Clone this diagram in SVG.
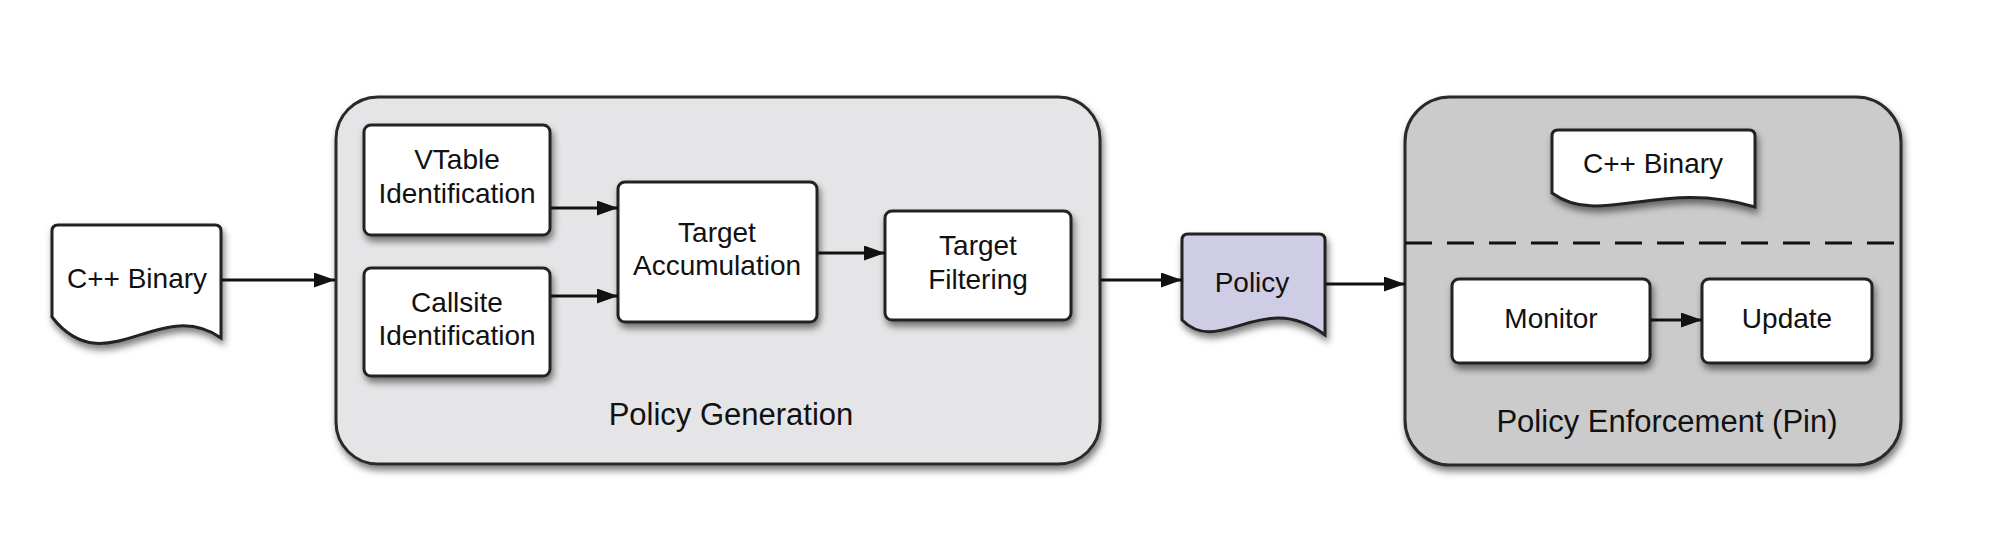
<svg xmlns="http://www.w3.org/2000/svg" width="2012" height="540" viewBox="0 0 2012 540">
<defs>
<filter id="sh" x="-20%" y="-20%" width="140%" height="150%">
<feDropShadow dx="2" dy="5" stdDeviation="3.5" flood-color="#000" flood-opacity="0.5"/>
</filter>
<marker id="ah" markerUnits="userSpaceOnUse" markerWidth="24" markerHeight="16" refX="21" refY="7.5" orient="auto">
<path d="M0,0 L21,7.5 L0,15 Z" fill="#111"/>
</marker>
</defs>
<style>
.grp{stroke:#2a2a2a;stroke-width:3;filter:url(#sh)}
.box{fill:#fff;stroke:#222;stroke-width:3;filter:url(#sh)}
.doc{fill:#fff;stroke:#222;stroke-width:3;filter:url(#sh)}
.lbl{font-family:"Liberation Sans",Arial,sans-serif;font-size:28px;fill:#111;text-anchor:middle}
.big{font-family:"Liberation Sans",Arial,sans-serif;font-size:31px;fill:#111;text-anchor:middle}
.edge{stroke:#111;stroke-width:3;fill:none;marker-end:url(#ah)}
</style>
<rect width="2012" height="540" fill="#fff"/>

<g id="policy-generation">
<rect class="grp" x="336" y="97" width="764" height="367" rx="42" fill="#e5e5e7"/>
<text class="big" x="731" y="425">Policy Generation</text>
</g>

<g id="policy-enforcement">
<rect class="grp" x="1405" y="97" width="496" height="368" rx="45" fill="#cbcbcb"/>
<line x1="1405" y1="243" x2="1901" y2="243" stroke="#111" stroke-width="3" stroke-dasharray="27 15"/>
<text class="big" x="1667" y="432">Policy Enforcement (Pin)</text>
</g>

<g id="cpp-binary-input">
<path class="doc" d="M52,231 Q52,225 58,225 L215,225 Q221,225 221,231 L221,338 C160,295 105,385 52,317 Z"/>
<text class="lbl" x="137" y="288">C++ Binary</text>
</g>

<g id="vtable-identification">
<rect class="box" x="364" y="125" width="186" height="110" rx="7"/>
<text class="lbl" x="457" y="169">VTable</text>
<text class="lbl" x="457" y="203">Identification</text>
</g>

<g id="callsite-identification">
<rect class="box" x="364" y="268" width="186" height="108" rx="7"/>
<text class="lbl" x="457" y="312">Callsite</text>
<text class="lbl" x="457" y="345">Identification</text>
</g>

<g id="target-accumulation">
<rect class="box" x="618" y="182" width="199" height="140" rx="7"/>
<text class="lbl" x="717" y="242">Target</text>
<text class="lbl" x="717" y="275">Accumulation</text>
</g>

<g id="target-filtering">
<rect class="box" x="885" y="211" width="186" height="109" rx="7"/>
<text class="lbl" x="978" y="255">Target</text>
<text class="lbl" x="978" y="289">Filtering</text>
</g>

<g id="policy">
<path class="doc" style="fill:#cfcde5" d="M1182,240 Q1182,234 1188,234 L1319,234 Q1325,234 1325,240 L1325,335 C1262,288 1220,358 1182,320 Z"/>
<text class="lbl" x="1252" y="292">Policy</text>
</g>

<g id="cpp-binary-pin">
<path class="doc" d="M1552,136 Q1552,130 1558,130 L1749,130 Q1755,130 1755,136 L1755,207 C1660,178 1600,228 1552,193 Z"/>
<text class="lbl" x="1653" y="173">C++ Binary</text>
</g>

<g id="monitor">
<rect class="box" x="1452" y="279" width="198" height="84" rx="7"/>
<text class="lbl" x="1551" y="328">Monitor</text>
</g>

<g id="update">
<rect class="box" x="1702" y="279" width="170" height="84" rx="7"/>
<text class="lbl" x="1787" y="328">Update</text>
</g>

<g id="connectors">
<line class="edge" x1="222" y1="280" x2="335" y2="280"/>
<line class="edge" x1="551" y1="208" x2="618" y2="208"/>
<line class="edge" x1="551" y1="296" x2="618" y2="296"/>
<line class="edge" x1="818" y1="253" x2="885" y2="253"/>
<line class="edge" x1="1101" y1="280" x2="1182" y2="280"/>
<line class="edge" x1="1326" y1="284" x2="1405" y2="284"/>
<line class="edge" x1="1651" y1="320" x2="1702" y2="320"/>
</g>
</svg>
